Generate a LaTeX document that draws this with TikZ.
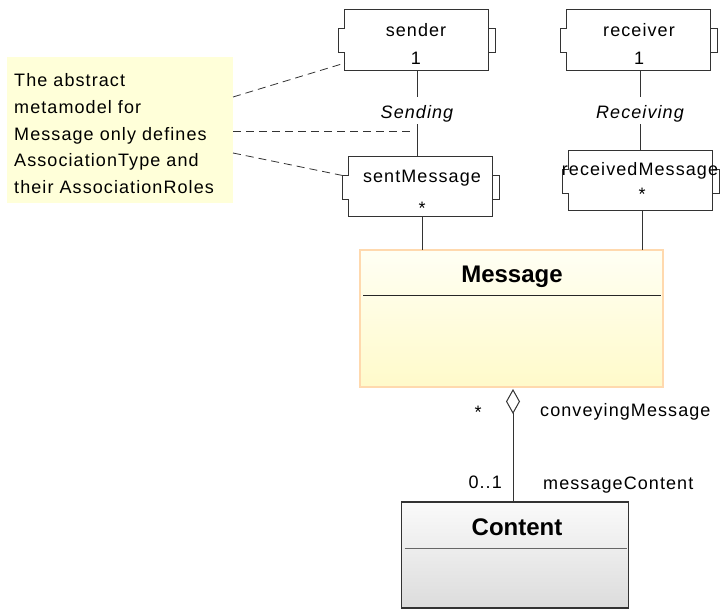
\documentclass[tikz,border=0pt]{standalone}
\usepackage{fontspec}
\setmainfont{Liberation Sans}[LetterSpace=6]
\newfontfamily\titlefont{Liberation Sans}
\usetikzlibrary{arrows.meta}

\definecolor{notefill}{HTML}{FFFFD9}
\definecolor{msgtop}{HTML}{FFFFF4}
\definecolor{msgbot}{HTML}{FFFACA}
\definecolor{msgedge}{HTML}{FFD9AE}
\definecolor{cnttop}{HTML}{FAFAFA}
\definecolor{cntbot}{HTML}{DCDCDC}
\definecolor{cntedge}{HTML}{333333}
\definecolor{linegray}{HTML}{333333}

% outline of an association-role box: left notch replaces the edge, right notch sits outside
\newcommand\roleoutline[1]{%
  \draw[roleline] ([yshift=-18.5pt]#1.north west) -- (#1.north west) -- (#1.north east)
    -- (#1.south east) -- (#1.south west) -- ([yshift=-42.5pt]#1.north west)
    -- ++(-6,0) -- ([xshift=-6pt,yshift=-18.5pt]#1.north west) -- cycle;
  \draw[roleline] ([yshift=-18.5pt]#1.north east) -- ++(7,0)
    -- ([xshift=7pt,yshift=-42.5pt]#1.north east) -- ([yshift=-42.5pt]#1.north east);}

\begin{document}
\begin{tikzpicture}[x=1pt,y=-1pt,
  every node/.style={font=\fontsize{18}{21}\selectfont},
  conn/.style={draw=linegray, line width=1pt},
  roleline/.style={draw=linegray, line width=1pt},
  notelink/.style={draw=linegray, line width=0.8pt, dash pattern=on 8pt off 5pt},
  rolebox/.style={minimum width=144pt, minimum height=61pt, inner sep=0pt, outer sep=0pt},
  roletext/.style={anchor=base, inner sep=0pt},
  startext/.style={inner sep=0pt},
  assoclabel/.style={anchor=base, font=\fontsize{18}{21}\selectfont\itshape,
    text height=17pt, text depth=0pt, inner xsep=2pt, inner ysep=5pt},
  classtitle/.style={anchor=base, inner sep=0pt, font={\fontsize{24}{28}\titlefont\bfseries}},
  sepline/.style={draw=black!85, line width=1.2pt},
  endlabel/.style={inner sep=0pt}
]
\useasboundingbox (0,0) rectangle (723,609);

% note
\node[fill=notefill, minimum width=226pt, minimum height=146pt, inner sep=0pt, outer sep=0pt]
  (note) at (120,130) {};
\node[anchor=north west, align=left, inner sep=0pt, font=\fontsize{18}{26.75}\selectfont]
  (noteText) at (14,73.4) {The abstract\\metamodel for\\Message only defines\\AssociationType and\\their AssociationRoles};

% role boxes
\node[rolebox] (sender) at (416.5,40.5) {};
\node[rolebox] (receiver) at (638,40.5) {};
\node[rolebox, minimum height=60pt] (sentMessage) at (420,187) {};
\node[rolebox, minimum height=60pt] (receivedMessage) at (640,181) {};
\roleoutline{sender}
\roleoutline{receiver}
\roleoutline{sentMessage}
\roleoutline{receivedMessage}

\node[roletext] (senderName) at (416,37) {sender};
\node[roletext] (senderMult) at (416,65) {1};
\node[roletext] (receiverName) at (639,37) {receiver};
\node[roletext] (receiverMult) at (639,65) {1};
\node[roletext] (sentName) at (422,183) {sentMessage};
\node[startext] (sentMult) at (422,208) {*};
\node[roletext] (recvName) at (640,176) {receivedMessage};
\node[startext] (recvMult) at (642,194) {*};

% association types
\node[assoclabel] (sending) at (417,119) {Sending};
\node[assoclabel] (receiving) at (640,119) {Receiving};

% classes
\node[draw=msgedge, line width=1.5pt, top color=msgtop, bottom color=msgbot,
  minimum width=303pt, minimum height=137pt, inner sep=0pt, outer sep=0pt]
  (message) at (511.5,318.5) {};
\node[classtitle] (messageTitle) at (512,283) {Message};
\draw[sepline] ([shift={(3pt,-45.5pt)}]message.north west) -- ([shift={(-2pt,-45.5pt)}]message.north east);

\node[draw=cntedge, line width=1.5pt, top color=cnttop, bottom color=cntbot,
  minimum width=227pt, minimum height=106pt, inner sep=0pt, outer sep=0pt]
  (content) at (515,555) {};
\node[classtitle] (contentTitle) at (517,535) {Content};
\draw[sepline, draw=black!60, line width=1pt] ([shift={(3pt,-46pt)}]content.north west) -- ([shift={(-2pt,-46pt)}]content.north east);

% association lines
\draw[conn] (sending.north |- sender.south) -- (sending.north);
\draw[conn] (sending.south) -- (sending.south |- sentMessage.north);
\draw[conn] (receiving.north |- receiver.south) -- (receiving.north);
\draw[conn] (receiving.south) -- (receiving.south |- receivedMessage.north);
\draw[conn] ([xshift=2pt]sentMessage.south) -- ([xshift=2pt]sentMessage.south |- message.north);
\draw[conn] ([xshift=2pt]receivedMessage.south) -- ([xshift=2pt]receivedMessage.south |- message.north);

% aggregation
\coordinate (aggx) at (513,0);
\draw[conn, shorten >=2pt, -{Diamond[open, length=25pt, width=14pt]}]
  (content.north -| aggx) -- (message.south -| aggx);
\node[endlabel] (aggMult) at (478,412) {*};
\node[endlabel, anchor=base west] (aggRole) at (540,417) {conveyingMessage};
\node[endlabel, anchor=base east] (partMult) at (502,488) {0..1};
\node[endlabel, anchor=base west] (partRole) at (543,489) {messageContent};

% note links
\coordinate (senderHook) at (345,63);
\coordinate (sendingHook) at (412,131);
\coordinate (sentHook) at (345,176);
\draw[notelink] ([yshift=33pt]note.east) -- (senderHook);
\draw[notelink] ([yshift=-1pt]note.east) -- (sendingHook);
\draw[notelink] ([yshift=-23pt]note.east) -- (sentHook);
\end{tikzpicture}
\end{document}
